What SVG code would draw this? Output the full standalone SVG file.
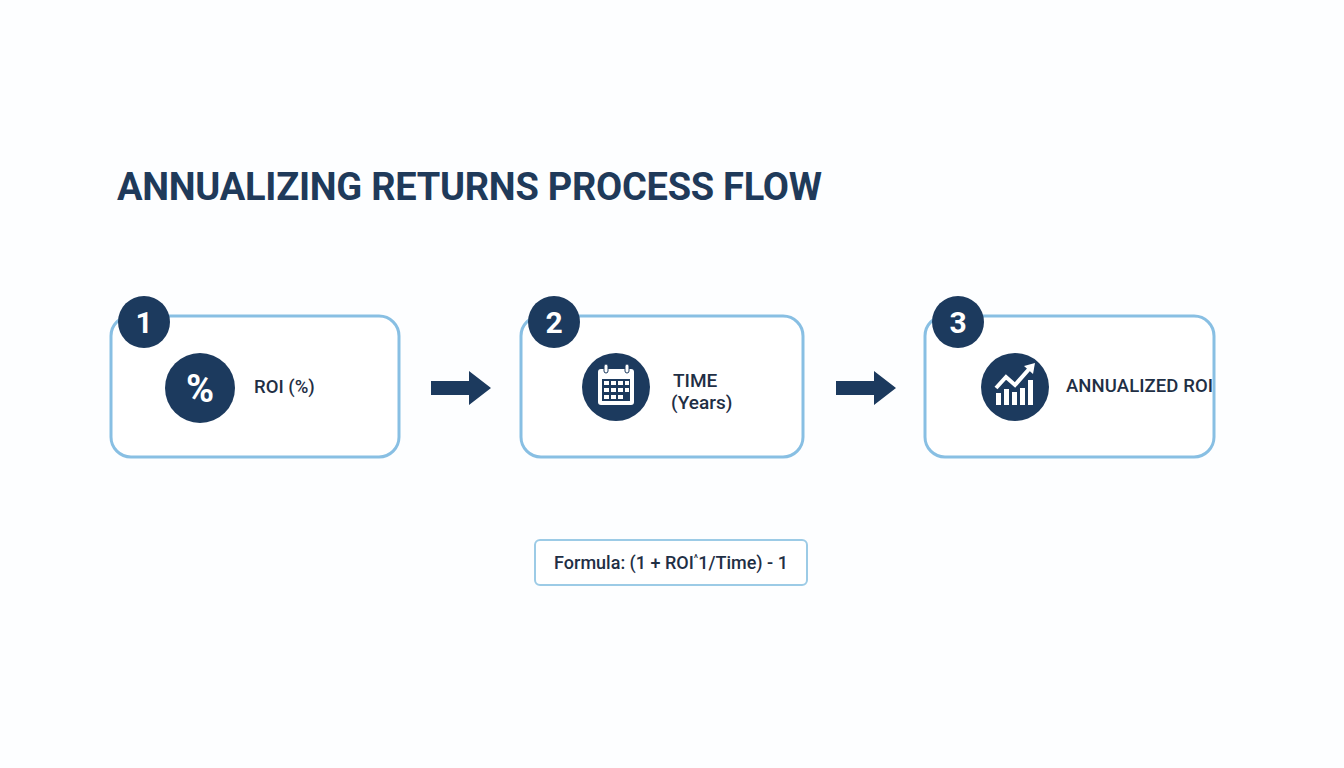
<svg xmlns="http://www.w3.org/2000/svg" width="1344" height="768" viewBox="0 0 1344 768">
<style>
.box{fill:#fff;stroke:#88bfe3;stroke-width:3}
.dk{fill:#1c3a5e}
.t{font-family:Roboto,"Liberation Sans",sans-serif;fill:#1f2f45;font-weight:500}
.badge{font-family:Roboto,"Liberation Sans",sans-serif;fill:#fff;font-weight:700;font-size:30px}
</style>
<defs>
<path id="arr" d="M0,-7 H38 V-17 L60,0 L38,17 V7 H0 Z"/>
</defs>
<rect width="1344" height="768" fill="#fdfeff"/>
<text x="117" y="200" font-family="Roboto,'Liberation Sans',sans-serif" font-weight="700" font-size="38" fill="#1f3a5a" textLength="705">ANNUALIZING RETURNS PROCESS FLOW</text>
<g id="connectors" class="dk">
<use href="#arr" x="431" y="388"/>
<use href="#arr" x="836" y="388"/>
</g>
<g id="node1">
<rect class="box" x="111" y="316" width="288" height="141" rx="20"/>
<circle class="dk" cx="144" cy="322" r="26"/>
<text class="badge" x="144" y="333" text-anchor="middle">1</text>
<circle class="dk" cx="200" cy="388" r="35"/>
<text x="200" y="402" text-anchor="middle" font-family="Roboto,'Liberation Sans',sans-serif" font-weight="700" font-size="38" fill="#fff">%</text>
<text class="t" x="254" y="393" font-size="18.5">ROI (%)</text>
</g>
<g id="node2">
<rect class="box" x="521" y="316" width="282" height="141" rx="20"/>
<circle class="dk" cx="554" cy="322" r="26"/>
<text class="badge" x="554" y="333" text-anchor="middle">2</text>
<circle class="dk" cx="616" cy="387" r="34"/>
<rect x="598" y="369" width="36" height="36" rx="3" fill="#fff"/>
<rect x="602" y="379" width="28" height="22" class="dk"/>
<g fill="#fff"><rect x="604" y="381" width="5" height="4"/><rect x="611" y="381" width="5" height="4"/><rect x="618" y="381" width="5" height="4"/><rect x="625" y="381" width="4" height="4"/><rect x="604" y="388" width="5" height="4"/><rect x="611" y="388" width="5" height="4"/><rect x="618" y="388" width="5" height="4"/><rect x="625" y="388" width="4" height="4"/><rect x="604" y="395" width="5" height="4"/><rect x="611" y="395" width="5" height="4"/><rect x="618" y="395" width="5" height="4"/></g>
<rect x="604" y="364" width="4" height="9" rx="2" fill="#fff" stroke="#1c3a5e" stroke-width="1"/>
<rect x="625" y="364" width="4" height="9" rx="2" fill="#fff" stroke="#1c3a5e" stroke-width="1"/>
<text class="t" x="673" y="387" font-size="19">TIME</text>
<text class="t" x="671" y="409" font-size="19">(Years)</text>
</g>
<g id="node3">
<rect class="box" x="925" y="316" width="289" height="141" rx="20"/>
<circle class="dk" cx="958" cy="322" r="26"/>
<text class="badge" x="958" y="333" text-anchor="middle">3</text>
<circle class="dk" cx="1015" cy="387" r="34"/>
<g fill="#fff"><rect x="996" y="393" width="5" height="12"/><rect x="1004" y="389" width="5" height="16"/><rect x="1012" y="392" width="5" height="13"/><rect x="1020" y="388" width="5" height="17"/><rect x="1028" y="380" width="5" height="25"/></g>
<polyline points="996,388 1006,377 1015,385 1030,368" fill="none" stroke="#fff" stroke-width="4"/>
<polygon points="1024,366 1035,363 1033,374" fill="#fff"/>
<text class="t" x="1066" y="392" font-size="18.5" font-weight="700" textLength="147">ANNUALIZED ROI</text>
</g>
<g id="formula">
<rect x="535" y="540" width="272" height="45" rx="5" fill="#fff" stroke="#9ccbe6" stroke-width="2"/>
<text class="t" x="671" y="569" text-anchor="middle" font-size="18">Formula: (1 + ROI<tspan font-size="10" dy="-7">^</tspan><tspan dy="7">1/Time) - 1</tspan></text>
</g>
</svg>
